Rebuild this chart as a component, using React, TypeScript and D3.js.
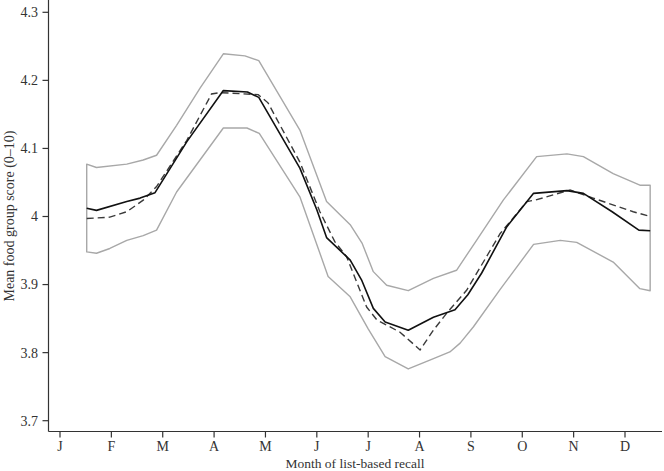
import { useEffect, useRef } from 'react'
import * as d3 from 'd3'

// months as fractional positions (1 = Jan ... 12 = Dec)
const solidMonths = [1.52, 1.71, 2.3, 2.56, 2.85, 3.47, 4.18, 4.65, 4.87, 5.67, 6.0, 6.19, 6.65, 6.87, 7.1, 7.33, 7.78, 8.27, 8.69, 8.94, 9.21, 9.7, 10.22, 10.87, 11.19, 11.75, 12.27, 12.49]
const solidValues = [4.012, 4.009, 4.022, 4.027, 4.035, 4.11, 4.185, 4.183, 4.175, 4.071, 4.01, 3.969, 3.936, 3.907, 3.865, 3.845, 3.833, 3.852, 3.863, 3.885, 3.917, 3.985, 4.034, 4.038, 4.034, 4.007, 3.98, 3.979]

const dashedMonths = [1.52, 1.97, 2.3, 2.62, 2.88, 3.47, 3.95, 4.12, 4.86, 5.05, 5.67, 6.06, 6.35, 6.58, 6.97, 7.17, 7.62, 8.01, 8.27, 8.53, 8.92, 9.57, 10.09, 10.25, 10.93, 11.38, 12.16, 12.49]
const dashedValues = [3.997, 3.999, 4.007, 4.024, 4.044, 4.112, 4.18, 4.182, 4.179, 4.167, 4.08, 4.007, 3.963, 3.941, 3.867, 3.848, 3.83, 3.804, 3.833, 3.858, 3.892, 3.975, 4.022, 4.024, 4.039, 4.027, 4.007, 4.0]

const upperMonths = [1.52, 1.71, 2.3, 2.62, 2.88, 3.27, 3.73, 4.18, 4.6, 4.87, 5.67, 6.19, 6.65, 6.88, 7.1, 7.36, 7.78, 8.27, 8.72, 9.11, 9.63, 10.28, 10.87, 11.19, 11.77, 12.29, 12.49]
const upperValues = [4.077, 4.072, 4.077, 4.083, 4.09, 4.134, 4.189, 4.239, 4.236, 4.229, 4.127, 4.022, 3.988, 3.961, 3.919, 3.899, 3.891, 3.909, 3.921, 3.965, 4.024, 4.088, 4.092, 4.088, 4.063, 4.046, 4.046]

const lowerMonths = [1.52, 1.71, 1.97, 2.3, 2.62, 2.88, 3.27, 4.18, 4.64, 4.88, 5.67, 6.22, 6.65, 7.0, 7.33, 7.78, 8.2, 8.59, 8.79, 9.05, 9.57, 10.22, 10.74, 11.06, 11.77, 12.29, 12.49]
const lowerValues = [3.948, 3.946, 3.953, 3.965, 3.972, 3.98, 4.036, 4.13, 4.13, 4.122, 4.029, 3.912, 3.882, 3.835, 3.794, 3.776, 3.789, 3.801, 3.814, 3.838, 3.893, 3.959, 3.965, 3.962, 3.933, 3.894, 3.891]

const monthLabels = ['J', 'F', 'M', 'A', 'M', 'J', 'J', 'A', 'S', 'O', 'N', 'D']
const yTicks = [3.7, 3.8, 3.9, 4, 4.1, 4.2, 4.3]

const W = 664
const H = 471
const FONT = '"Liberation Serif", "Times New Roman", serif'

export default function App() {
  const svgRef = useRef<SVGSVGElement>(null)

  useEffect(() => {
    if (!svgRef.current) return
    const svg = d3.select(svgRef.current)
    svg.selectAll('*').remove()

    const x = d3.scaleLinear().domain([1, 12]).range([60, 625])
    const y = d3.scaleLinear().domain([3.7, 4.3]).range([420.7, 12.3])
    const axisLeft = 48.5
    const axisBottom = 431.5

    const line = d3.line<[number, number]>().x(d => x(d[0])).y(d => y(d[1]))
    const pts = (ms: number[], vs: number[]) => ms.map((m, i) => [m, vs[i]] as [number, number])

    // confidence band outline (closed at both ends)
    const band = [...pts(upperMonths, upperValues), ...pts(lowerMonths, lowerValues).reverse()]
    svg.append('path')
      .attr('d', line(band) + 'Z')
      .attr('fill', 'none')
      .attr('stroke', '#a8a8a8')
      .attr('stroke-width', 1.4)
      .attr('stroke-linejoin', 'round')

    svg.append('path')
      .attr('d', line(pts(dashedMonths, dashedValues))!)
      .attr('fill', 'none')
      .attr('stroke', '#3a3a3a')
      .attr('stroke-width', 1.4)
      .attr('stroke-dasharray', '7,4')

    svg.append('path')
      .attr('d', line(pts(solidMonths, solidValues))!)
      .attr('fill', 'none')
      .attr('stroke', '#111')
      .attr('stroke-width', 1.6)
      .attr('stroke-linejoin', 'round')

    // y axis
    const ya = svg.append('g')
    ya.append('line').attr('x1', axisLeft).attr('x2', axisLeft).attr('y1', 0).attr('y2', axisBottom)
      .attr('stroke', '#333').attr('stroke-width', 1.2)
    yTicks.forEach(t => {
      ya.append('line').attr('x1', axisLeft - 6).attr('x2', axisLeft).attr('y1', y(t)).attr('y2', y(t))
        .attr('stroke', '#333').attr('stroke-width', 1.2)
      ya.append('text')
        .attr('x', 38).attr('y', y(t)).attr('dy', '0.35em')
        .attr('text-anchor', 'end')
        .attr('font-family', FONT).attr('font-size', 14).attr('fill', '#333')
        .text(d3.format('~g')(t))
    })
    ya.append('text')
      .attr('transform', `translate(14,${216}) rotate(-90)`)
      .attr('text-anchor', 'middle')
      .attr('font-family', FONT).attr('font-size', 14).attr('fill', '#333')
      .text('Mean food group score (0–10)')

    // x axis
    const xa = svg.append('g')
    xa.append('line').attr('x1', axisLeft).attr('x2', 662).attr('y1', axisBottom).attr('y2', axisBottom)
      .attr('stroke', '#333').attr('stroke-width', 1.2)
    monthLabels.forEach((lab, i) => {
      const xm = x(i + 1)
      xa.append('line').attr('x1', xm).attr('x2', xm).attr('y1', axisBottom).attr('y2', axisBottom + 6)
        .attr('stroke', '#333').attr('stroke-width', 1.2)
      xa.append('text')
        .attr('x', xm).attr('y', 446.5).attr('dy', '0.35em')
        .attr('text-anchor', 'middle')
        .attr('font-family', FONT).attr('font-size', 14).attr('fill', '#333')
        .text(lab)
    })
    xa.append('text')
      .attr('x', 355).attr('y', 463).attr('dy', '0.35em')
      .attr('text-anchor', 'middle')
      .attr('font-family', FONT).attr('font-size', 13.5).attr('fill', '#333')
      .text('Month of list-based recall')
  }, [])

  return (
    <svg ref={svgRef} width={W} height={H}
      style={{ position: 'absolute', left: 0, top: 0, background: '#fff' }} />
  )
}
